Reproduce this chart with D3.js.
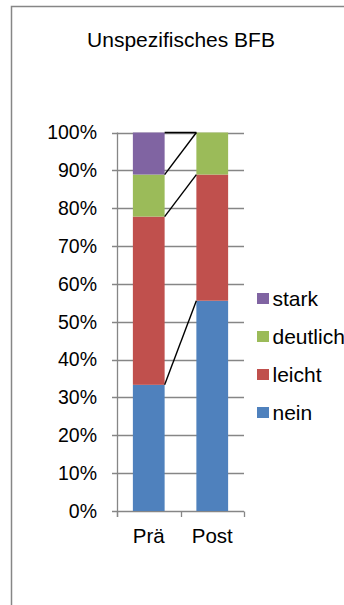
<!DOCTYPE html>
<html>
<head>
<meta charset="utf-8">
<script src="https://cdn.jsdelivr.net/npm/d3@7"></script>
<style>
  html, body { margin: 0; padding: 0; background: #fff; }
  svg { display: block; font-family: "Liberation Sans", Arial, sans-serif; }
</style>
</head>
<body>
<svg id="chart" width="344" height="605"></svg>
<script>
// Categories and stacked shares (fractions of 1)
const categories = ["Prä", "Post"];
const seriesKeys = ["nein", "leicht", "deutlich", "stark"];
const nein = [3 / 9, 5 / 9];
const leicht = [4 / 9, 3 / 9];
const deutlich = [1 / 9, 1 / 9];
const stark = [1 / 9, 0];
const yTicks = [0, 0.1, 0.2, 0.3, 0.4, 0.5, 0.6, 0.7, 0.8, 0.9, 1.0];
const colors = { nein: "#4F81BD", leicht: "#C0504D", deutlich: "#9BBB59", stark: "#8064A2" };
const legendOrder = ["stark", "deutlich", "leicht", "nein"];
const title = "Unspezifisches BFB";

const rows = categories.map((c, i) => ({
  cat: c, nein: nein[i], leicht: leicht[i], deutlich: deutlich[i], stark: stark[i]
}));

const svg = d3.select("#chart");
const axisColor = "#868686";

// outer chart frame (continues past the visible area)
svg.append("rect")
  .attr("x", 11.5).attr("y", 6.5)
  .attr("width", 420).attr("height", 700)
  .attr("fill", "#fff").attr("stroke", axisColor).attr("stroke-width", 1.5);

// title
svg.append("text")
  .attr("x", 181).attr("y", 47)
  .attr("text-anchor", "middle")
  .attr("font-size", 21).attr("fill", "#000")
  .text(title);

const plotLeft = 117, plotRight = 244, plotTop = 132.5, plotBottom = 511;

const x = d3.scaleBand().domain(categories)
  .range([plotLeft, plotRight]).paddingInner(0.5).paddingOuter(0.25);
const y = d3.scaleLinear().domain([0, 1]).range([plotBottom, plotTop]);

// horizontal gridlines, each extended left into a tick mark
svg.append("g").selectAll("line").data(yTicks).join("line")
  .attr("x1", plotLeft - 5).attr("x2", plotRight)
  .attr("y1", d => Math.round(y(d)) + 0.5).attr("y2", d => Math.round(y(d)) + 0.5)
  .attr("stroke", axisColor).attr("stroke-width", 1.3);

// y-axis labels
svg.append("g").selectAll("text").data(yTicks).join("text")
  .attr("x", 97).attr("y", d => y(d))
  .attr("dy", "0.35em").attr("text-anchor", "end")
  .attr("font-size", 19.5).attr("fill", "#000")
  .text(d => d3.format(".0%")(d));

// stacked bars
const stacked = d3.stack().keys(seriesKeys)(rows);
svg.append("g").selectAll("g").data(stacked).join("g")
  .attr("fill", s => colors[s.key])
  .selectAll("rect").data(s => s).join("rect")
  .attr("x", d => x(d.data.cat))
  .attr("width", x.bandwidth())
  .attr("y", d => y(d[1]))
  .attr("height", d => y(d[0]) - y(d[1]));

// series lines joining the top of each segment between the two bars
const lineData = stacked.map(s => ({
  key: s.key,
  x1: x(categories[0]) + x.bandwidth(), y1: y(s[0][1]),
  x2: x(categories[1]), y2: y(s[1][1])
}));
svg.append("g").selectAll("line").data(lineData).join("line")
  .attr("x1", d => d.x1).attr("y1", d => d.y1)
  .attr("x2", d => d.x2).attr("y2", d => d.y2)
  .attr("stroke", "#000").attr("stroke-width", 1.4);

// y axis line
svg.append("line")
  .attr("x1", plotLeft + 0.5).attr("x2", plotLeft + 0.5)
  .attr("y1", plotTop).attr("y2", plotBottom + 6)
  .attr("stroke", axisColor).attr("stroke-width", 1.3);

// x axis with category boundary ticks
const step = x.step();
const boundaries = [0, 1, 2].map(i => x(categories[0]) - x.paddingOuter() * step + i * step);
svg.append("g").selectAll("line").data(boundaries).join("line")
  .attr("x1", d => Math.round(d) + 0.5).attr("x2", d => Math.round(d) + 0.5)
  .attr("y1", Math.round(plotBottom) + 0.5).attr("y2", plotBottom + 6)
  .attr("stroke", axisColor).attr("stroke-width", 1.3);

svg.append("g").selectAll("text").data(categories).join("text")
  .attr("x", d => x(d) + x.bandwidth() / 2).attr("y", 543)
  .attr("text-anchor", "middle")
  .attr("font-size", 20.5).attr("fill", "#000")
  .text(d => d);

// legend
const legend = svg.append("g").selectAll("g").data(legendOrder).join("g")
  .attr("transform", (d, i) => `translate(257, ${298.5 + i * 38})`);
legend.append("rect")
  .attr("x", 0).attr("y", -5.5).attr("width", 12).attr("height", 11)
  .attr("fill", d => colors[d]);
legend.append("text")
  .attr("x", 15.5).attr("y", 0).attr("dy", "0.35em")
  .attr("font-size", 21).attr("fill", "#000")
  .text(d => d);
</script>
</body>
</html>
